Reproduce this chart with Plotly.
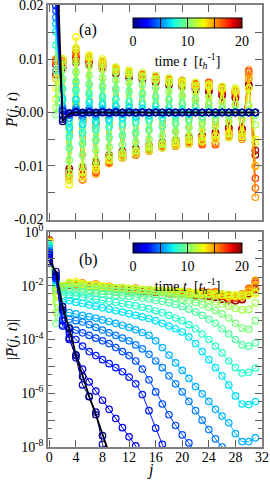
import numpy as np
import plotly.graph_objects as go

J = list(range(32))
T_VALUES = list(range(21))

# log10 |P(j,t)|; one list per time t
L_T = [
 [-1.10,-1.47,-2.78,-3.60,-4.57,-5.38,-6.12,-6.80,-7.58,-8.40,-9.20,-9.90,-10.7,-11.4,-12.1,-12.9,-13.6,-14.3,-15.0,-15.8,-16.5,-17.2,-17.9,-18.6,-19.3,-20.0,-20.7,-21.4,-22.1,-22.8,-23.5,-24.2],
 [-0.95,-1.60,-2.90,-3.94,-4.68,-5.69,-6.13,-6.70,-7.90,-8.70,-9.40,-10.1,-10.8,-11.5,-12.2,-12.9,-13.6,-14.3,-15.0,-15.7,-16.4,-17.1,-17.8,-18.5,-19.2,-19.9,-20.6,-21.3,-22.0,-22.7,-23.4,-24.1],
 [-0.85,-1.65,-3.30,-4.00,-4.60,-5.10,-5.58,-5.92,-6.26,-6.60,-6.94,-7.28,-7.62,-7.96,-8.50,-9.10,-9.70,-10.3,-10.9,-11.5,-12.1,-12.7,-13.3,-13.9,-14.5,-15.1,-15.7,-16.3,-16.9,-17.5,-18.1,-18.7],
 [-0.80,-1.70,-3.50,-3.75,-4.00,-4.25,-4.45,-4.60,-4.75,-4.90,-5.05,-5.20,-5.40,-5.65,-6.05,-6.65,-7.30,-7.90,-8.60,-9.30,-10.0,-10.7,-11.4,-12.1,-12.8,-13.5,-14.2,-14.9,-15.6,-16.3,-17.0,-17.7],
 [-0.75,-1.72,-3.46,-3.55,-3.65,-3.75,-3.85,-3.95,-4.05,-4.15,-4.30,-4.45,-4.60,-4.80,-5.10,-5.50,-5.95,-6.40,-6.80,-7.20,-7.55,-7.85,-8.20,-8.60,-9.00,-9.40,-9.80,-10.2,-10.6,-11.0,-11.4,-11.8],
 [-0.70,-1.75,-3.20,-3.25,-3.30,-3.35,-3.45,-3.55,-3.65,-3.75,-3.85,-3.95,-4.05,-4.20,-4.35,-4.55,-4.80,-5.05,-5.35,-5.65,-5.95,-6.30,-6.65,-7.00,-7.35,-7.70,-8.00,-8.35,-8.70,-9.05,-9.40,-9.70],
 [-0.62,-1.78,-2.97,-3.00,-3.05,-3.10,-3.15,-3.20,-3.27,-3.33,-3.40,-3.47,-3.55,-3.64,-3.74,-3.85,-4.05,-4.30,-4.58,-4.87,-5.15,-5.45,-5.75,-6.02,-6.30,-6.60,-6.85,-7.10,-7.50,-7.80,-7.80,-7.66],
 [-0.55,-1.82,-2.60,-2.55,-2.62,-2.66,-2.72,-2.76,-2.82,-2.87,-2.93,-2.98,-3.04,-3.10,-3.16,-3.22,-3.30,-3.40,-3.50,-3.60,-3.72,-3.90,-4.15,-4.45,-4.75,-5.05,-5.35,-5.70,-6.10,-6.40,-6.42,-6.31],
 [-0.50,-1.90,-2.35,-2.35,-2.38,-2.42,-2.45,-2.50,-2.53,-2.58,-2.61,-2.66,-2.70,-2.75,-2.80,-2.86,-2.93,-3.00,-3.10,-3.20,-3.30,-3.45,-3.60,-3.80,-4.00,-4.25,-4.50,-4.80,-5.05,-5.25,-5.22,-5.06],
 [-0.47,-2.10,-2.20,-2.18,-2.24,-2.24,-2.28,-2.29,-2.32,-2.33,-2.36,-2.37,-2.40,-2.42,-2.46,-2.49,-2.54,-2.58,-2.63,-2.70,-2.78,-2.87,-2.98,-3.10,-3.25,-3.40,-3.60,-3.80,-4.00,-4.20,-4.25,-4.13],
 [-0.44,-3.40,-2.10,-2.05,-2.12,-2.10,-2.16,-2.15,-2.19,-2.19,-2.22,-2.22,-2.25,-2.26,-2.28,-2.30,-2.33,-2.36,-2.40,-2.45,-2.50,-2.56,-2.62,-2.70,-2.80,-2.92,-3.05,-3.20,-3.40,-3.58,-3.62,-3.30],
 [-0.42,-3.00,-2.05,-1.95,-2.02,-2.00,-2.06,-2.05,-2.09,-2.09,-2.12,-2.12,-2.15,-2.15,-2.18,-2.18,-2.21,-2.23,-2.26,-2.30,-2.33,-2.37,-2.42,-2.48,-2.54,-2.60,-2.68,-2.76,-2.84,-2.90,-2.88,-2.64],
 [-0.40,-2.60,-2.00,-1.90,-1.92,-1.95,-1.98,-2.00,-2.02,-2.05,-2.07,-2.08,-2.10,-2.12,-2.13,-2.15,-2.16,-2.18,-2.19,-2.21,-2.22,-2.24,-2.25,-2.27,-2.28,-2.30,-2.31,-2.32,-2.34,-2.35,-2.35,-2.25],
 [-0.38,-2.33,-2.00,-1.87,-1.85,-1.92,-1.97,-1.98,-2.00,-2.06,-2.08,-2.12,-2.12,-2.15,-2.17,-2.20,-2.20,-2.24,-2.23,-2.26,-2.25,-2.30,-2.30,-2.33,-2.32,-2.36,-2.35,-2.40,-2.38,-2.42,-2.35,-2.30],
 [-0.36,-2.20,-2.05,-1.92,-1.92,-1.95,-1.99,-1.98,-2.04,-2.05,-2.10,-2.10,-2.14,-2.14,-2.18,-2.18,-2.22,-2.22,-2.25,-2.24,-2.27,-2.28,-2.30,-2.28,-2.30,-2.30,-2.36,-2.42,-2.38,-2.35,-2.20,-2.00],
 [-0.34,-2.00,-2.02,-1.92,-1.93,-1.90,-2.00,-1.94,-2.05,-2.02,-2.10,-2.07,-2.13,-2.10,-2.16,-2.14,-2.20,-2.19,-2.22,-2.20,-2.25,-2.23,-2.30,-2.25,-2.28,-2.24,-2.35,-2.35,-2.42,-2.30,-2.15,-1.80],
 [-0.33,-2.02,-2.00,-1.95,-1.95,-1.92,-1.98,-1.96,-2.03,-2.04,-2.08,-2.09,-2.12,-2.12,-2.15,-2.16,-2.18,-2.20,-2.21,-2.22,-2.23,-2.25,-2.27,-2.24,-2.26,-2.25,-2.33,-2.38,-2.40,-2.33,-2.10,-1.85],
 [-0.32,-2.01,-2.02,-1.90,-1.98,-1.90,-1.98,-1.95,-2.02,-2.03,-2.08,-2.08,-2.12,-2.10,-2.15,-2.15,-2.19,-2.18,-2.22,-2.20,-2.22,-2.25,-2.28,-2.22,-2.25,-2.22,-2.32,-2.38,-2.40,-2.35,-2.12,-1.91],
 [-0.31,-2.05,-2.04,-1.93,-1.99,-1.94,-2.01,-1.98,-2.05,-2.06,-2.10,-2.10,-2.14,-2.13,-2.17,-2.17,-2.21,-2.21,-2.24,-2.23,-2.26,-2.27,-2.31,-2.28,-2.32,-2.33,-2.40,-2.45,-2.46,-2.42,-2.20,-2.00],
 [-0.30,-2.10,-2.06,-1.96,-2.01,-1.97,-2.03,-2.01,-2.07,-2.08,-2.12,-2.12,-2.16,-2.15,-2.19,-2.19,-2.23,-2.23,-2.27,-2.27,-2.30,-2.31,-2.35,-2.34,-2.38,-2.40,-2.48,-2.53,-2.55,-2.50,-2.28,-2.15],
 [-0.30,-2.15,-2.08,-1.98,-2.03,-1.99,-2.05,-2.03,-2.09,-2.10,-2.14,-2.14,-2.18,-2.17,-2.21,-2.21,-2.25,-2.25,-2.29,-2.29,-2.32,-2.33,-2.37,-2.37,-2.41,-2.43,-2.50,-2.55,-2.56,-2.52,-2.30,-2.10],
]

# sign of P(j,t)
S_A = "++--+-+-+-+-+-+-+-+-+-+-+-+-+-+-"
S_B = "+++-+-+-+-+-+-+-+-+-+-+-+-+-+-+-"
S_C = "+-+-+-+-+-+-+-+-+-+-+-+-+-+-+-+-"
SIGNS = [S_A, S_A, S_A, S_B, S_B, S_B, S_B, S_B, S_B, S_B, S_C,
         S_B, S_B, S_B, S_B, S_B, S_B, S_B, S_B, S_B, S_B]
for s in SIGNS:
    assert len(s) == 32

A_YTICKS = [-0.02, -0.01, 0.0, 0.01, 0.02]
A_YLABELS = ["-0.02", "-0.01", "0.00", "0.01", "0.02"]
A_YMINOR = [-0.015, -0.005, 0.005, 0.015]
B_YTICKS = [1e0, 1e-1, 1e-2, 1e-3, 1e-4, 1e-5, 1e-6, 1e-7, 1e-8]
B_YLABELS = ["10<sup>0</sup>", " ", "10<sup>-2</sup>", " ", "10<sup>-4</sup>", " ",
             "10<sup>-6</sup>", " ", "10<sup>-8</sup>"]
B_YMINOR = [m * 10.0 ** e for e in range(-8, 0) for m in (2, 5)]
X_TICKS = [0, 4, 8, 12, 16, 20, 24, 28, 32]
CB_TICKS = [0, 5, 10, 15, 20]
CB_LABELS = ["0", " ", "10", " ", "20"]

# matplotlib "jet" channel anchors
JET_R = ([0, 0.35, 0.66, 0.89, 1], [0, 0, 1, 1, 0.5])
JET_G = ([0, 0.125, 0.375, 0.64, 0.91, 1], [0, 0, 1, 1, 0, 0])
JET_B = ([0, 0.11, 0.34, 0.65, 1], [0.5, 1, 1, 0, 0])
JET_POS = [0, 0.11, 0.125, 0.34, 0.35, 0.375, 0.64, 0.65, 0.66, 0.89, 0.91, 1]


def jet(v):
    r = np.interp(v, *JET_R)
    g = np.interp(v, *JET_G)
    b = np.interp(v, *JET_B)
    return "rgb(%d,%d,%d)" % (round(255 * r), round(255 * g), round(255 * b))


COLORSCALE = [[p, jet(p)] for p in JET_POS]
TMAX = 20.0
SERIF = "Liberation Serif, Times New Roman, serif"

fig = go.Figure()
for i in reversed(range(len(T_VALUES))):
    t = T_VALUES[i]
    mag = [10.0 ** l for l in L_T[i]]
    sgn = [1.0 if c == "+" else -1.0 for c in SIGNS[i]]
    signed = [m * s for m, s in zip(mag, sgn)]
    lc = "black" if t == 0 else jet(t / TMAX)
    lw = 1.8 if t == 0 else 1.0
    for xa, ya, yv, ca in (("x", "y", signed, "coloraxis"), ("x2", "y2", mag, "coloraxis2")):
        fig.add_trace(go.Scatter(
            x=J, y=yv, xaxis=xa, yaxis=ya, mode="lines+markers",
            line=dict(color=lc, width=lw),
            marker=dict(symbol="circle-open", size=6.5, color=[t] * len(J),
                        coloraxis=ca, line=dict(width=1.2)),
            showlegend=False, hoverinfo="skip"))

axis_common = dict(showline=True, linecolor="#808080", linewidth=1.5, mirror="ticks",
                   ticks="inside", ticklen=7, tickcolor="#606060", tickwidth=1,
                   showgrid=False, zeroline=False, ticklabeloverflow="allow",
                   tickfont=dict(family=SERIF, size=14, color="black"))

H = 442.0
W = 214.0
dom_b = [0, 215 / H]
dom_a = [227 / H, 1]

cb_common = dict(orientation="h", lenmode="pixels", len=109, thickness=10,
                 x=(187.5 - 48) / W, xanchor="center", yanchor="top",
                 xpad=0, ypad=0, outlinewidth=1, outlinecolor="black",
                 ticks="inside", ticklen=10, tickcolor="black", tickwidth=1,
                 tickmode="array", tickvals=CB_TICKS, ticktext=CB_LABELS,
                 tickfont=dict(family=SERIF, size=14, color="black"),
                 title=dict(text="time <i>t</i>  [<i>t<sub>h</sub></i><sup>-1</sup>]",
                            side="bottom", font=dict(family=SERIF, size=14, color="black")))


def ann(text, px, py, size=16, angle=0):
    return dict(text=text, x=(px - 48) / W, y=(447 - py) / H, xref="paper", yref="paper",
                xanchor="center", yanchor="middle", textangle=angle, showarrow=False,
                font=dict(family=SERIF, size=size, color="black"))


fig.update_layout(
    width=270, height=480,
    margin=dict(l=48, r=8, t=5, b=33, autoexpand=False),
    paper_bgcolor="white", plot_bgcolor="white",
    font=dict(family=SERIF, size=14, color="black"),
    xaxis=dict(domain=[0, 1], anchor="y", range=[-0.2, 32], tickmode="array",
               tickvals=X_TICKS, showticklabels=False, automargin=False, **axis_common),
    yaxis=dict(domain=dom_a, anchor="x", range=[-0.0201, 0.0201], tickmode="array",
               tickvals=A_YTICKS, ticktext=A_YLABELS, automargin=False,
               minor=dict(tickmode="array", tickvals=A_YMINOR, ticks="inside", ticklen=7,
                          tickcolor="#606060"),
               **axis_common),
    xaxis2=dict(domain=[0, 1], anchor="y2", range=[-0.2, 32], tickmode="array",
                tickvals=X_TICKS, automargin=False, ticklabelstandoff=-4, **axis_common),
    yaxis2=dict(domain=dom_b, anchor="x2", type="log", range=[-8, 0], tickmode="array",
                tickvals=B_YTICKS, ticktext=B_YLABELS, automargin=False,
                minor=dict(tickmode="array", tickvals=B_YMINOR, ticks="inside", ticklen=4,
                           tickcolor="#606060"),
                **axis_common),
    coloraxis=dict(colorscale=COLORSCALE, cmin=0, cmax=TMAX, showscale=True,
                   colorbar=dict(y=(447 - 18) / H, **cb_common)),
    coloraxis2=dict(colorscale=COLORSCALE, cmin=0, cmax=TMAX, showscale=True,
                    colorbar=dict(y=(447 - 243) / H, **cb_common)),
    annotations=[
        ann("(a)", 88, 30),
        ann("(b)", 88, 260),
        ann("<i>P̅</i>(<i>j</i>, <i>t</i>)", 12, 110, 15, -90),
        ann("|<i>P̅</i>(<i>j</i>, <i>t</i>)|", 12, 340, 15, -90),
        ann("<i>j</i>", 150, 470, 16),
    ],
)

fig.write_html("out.html", config={"displayModeBar": False},
               post_script="document.body.style.margin='0px';document.body.style.overflow='hidden';")
